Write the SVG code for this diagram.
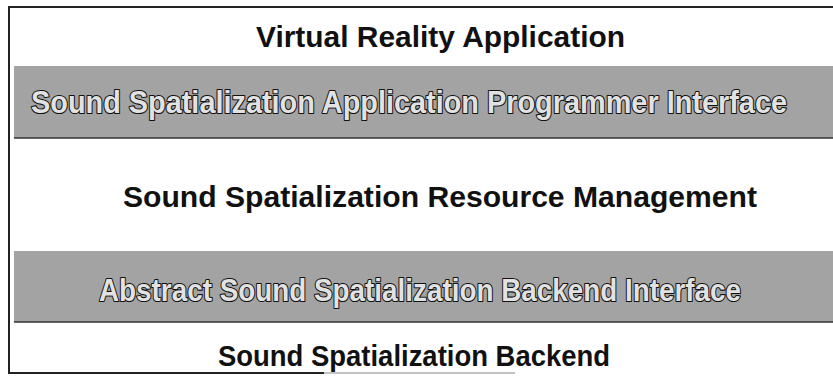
<svg xmlns="http://www.w3.org/2000/svg" width="833" height="384" viewBox="0 0 833 384">
<style>
.t{font-family:"Liberation Sans",Arial,sans-serif;font-weight:bold;font-size:29px;fill:#111}
.o{font-family:"Liberation Sans",Arial,sans-serif;font-weight:bold;font-size:31px;fill:#e2e2e2;stroke:#111;stroke-width:2.2px;paint-order:stroke;stroke-linejoin:round}
.band{fill:#a3a3a3}
</style>
<rect x="0" y="0" width="833" height="384" fill="#fff"/>
<g id="frame" fill="none" stroke="#222">
<line x1="8" y1="7" x2="833" y2="7" stroke-width="2"/>
<line x1="9" y1="6" x2="9" y2="374" stroke-width="2"/>
<line x1="8" y1="373" x2="324" y2="373" stroke-width="2"/>
<line x1="324" y1="373" x2="515" y2="373" stroke-width="1" stroke="#888"/>
</g>
<g id="app"><text class="t" x="256" y="47" textLength="369" lengthAdjust="spacingAndGlyphs">Virtual Reality Application</text></g>
<g id="api"><rect class="band" x="14" y="66" width="819" height="72"/>
<line x1="14" y1="138" x2="833" y2="138" stroke="#333" stroke-width="1.5"/>
<text class="o" x="31" y="113" textLength="756" lengthAdjust="spacingAndGlyphs">Sound Spatialization Application Programmer Interface</text></g>
<g id="rm"><text class="t" x="123" y="207" textLength="634" lengthAdjust="spacingAndGlyphs">Sound Spatialization Resource Management</text></g>
<g id="abi"><rect class="band" x="14" y="251" width="819" height="71"/>
<line x1="14" y1="322" x2="833" y2="322" stroke="#333" stroke-width="1.5"/>
<text class="o" x="99" y="301" textLength="642" lengthAdjust="spacingAndGlyphs">Abstract Sound Spatialization Backend Interface</text></g>
<g id="be"><text class="t" x="218" y="366" textLength="392" lengthAdjust="spacingAndGlyphs">Sound Spatialization Backend</text></g>
<g id="connectors"/>
</svg>
